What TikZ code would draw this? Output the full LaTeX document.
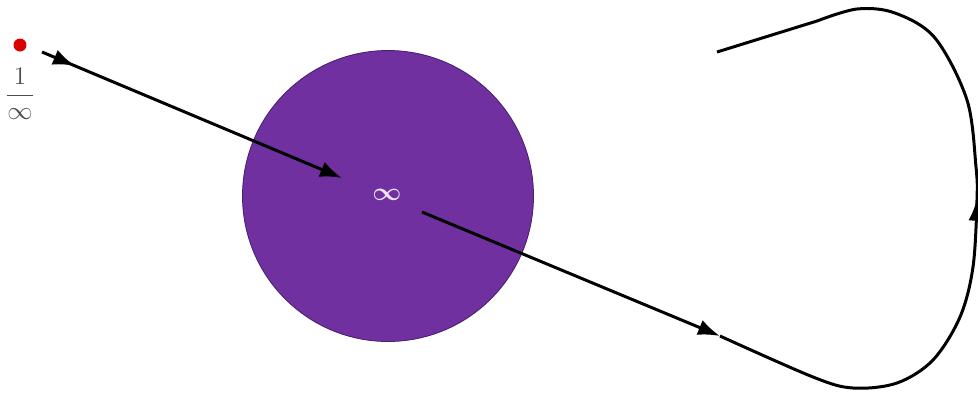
\documentclass[tikz,border=0pt]{standalone}
\usepackage{amsmath}
\usetikzlibrary{arrows.meta,decorations.markings}
\definecolor{corepurple}{HTML}{7030A0}
\definecolor{coreedge}{HTML}{4A2070}
\definecolor{fracgray}{HTML}{4D4D4D}
\definecolor{infwhite}{HTML}{F0E4F8}
\begin{document}
\begin{tikzpicture}[
  x=0.02cm, y=-0.02cm,
  dot/.style={
    circle, fill=red!85!black, inner sep=0pt, minimum size=0.26cm
  },
  core/.style={
    circle, draw=coreedge, line width=0.5pt, fill=corepurple,
    minimum size=5.82cm, inner sep=0pt
  },
  lbl/.style={font=\fontsize{15}{18}\selectfont, inner sep=0pt},
  arr/.style={-{Latex[length=4.4mm,width=3.2mm]}, line width=1.7pt},
  line/.style={line width=1.7pt},
  midtip/.style={
    postaction={decorate},
    decoration={markings,
      mark=at position #1 with {\arrow{Latex[length=4.4mm,width=3.2mm]}}}
  }
]
\useasboundingbox (0,0) rectangle (978,393);

%% ── Nodes ────────────────────────────────────────────────────
\node[dot] (src) at (20,45) {};
\node[lbl, text=fracgray] (frac) at (20,94) {$\displaystyle\frac{1}{\infty}$};
\node[core] (hole) at (388,196) {};
\node[lbl, text=infwhite] (inf) at (387,195) {$\boldsymbol{\infty}$};

%% ── Path points ──────────────────────────────────────────────
\coordinate (start) at (42,52);
\coordinate (in)    at (342,178);
\coordinate (out)   at (422,212);
\coordinate (exit)  at (720,336);
\coordinate (back)  at (717,52);

%% ── Into the sphere ──────────────────────────────────────────
\draw[arr, midtip=0.11] (start) -- (in);

%% ── Out of the sphere ────────────────────────────────────────
\draw[arr] (out) -- (exit);

%% ── Return loop ──────────────────────────────────────────────
\draw[line, midtip=0.5] plot[smooth, tension=0.55] coordinates {
  (exit) (813,377) (853,388) (897,383) (933,360) (960,317) (973,267)
  (977,200) (976,167) (967,100) (935,38) (895,13) (857,9) (817,21)}
  -- (back);

\end{tikzpicture}
\end{document}
